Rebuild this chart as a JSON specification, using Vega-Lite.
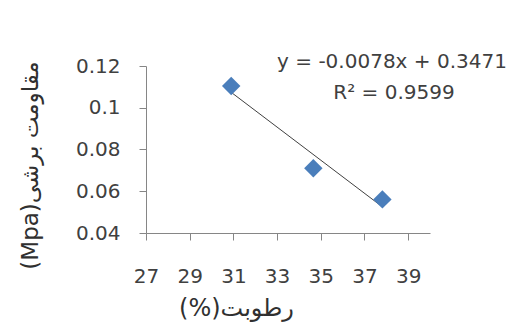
{
  "$schema": "https://vega.github.io/schema/vega-lite/v6.json",
  "width": 284,
  "height": 167,
  "autosize": {"type": "none"},
  "padding": {"left": 146, "top": 66, "right": 80, "bottom": 103},
  "background": "white",
  "config": {
    "view": {"stroke": null},
    "font": "DejaVu Sans",
    "axis": {
      "grid": false,
      "domainColor": "#868686",
      "tickColor": "#868686",
      "tickSize": 7,
      "labelColor": "#404040",
      "labelFont": "DejaVu Sans",
      "labelFontSize": 20,
      "titleColor": "#303030",
      "titleFont": "DejaVu Sans",
      "titleFontWeight": "normal"
    }
  },
  "datasets": {
    "pts": [
      {"moisture": 30.9, "shear": 0.1104},
      {"moisture": 34.66, "shear": 0.071},
      {"moisture": 37.82, "shear": 0.0561}
    ],
    "notes": [
      {"moisture": 38.26, "shear": 0.1219, "label": "y = -0.0078x + 0.3471"},
      {"moisture": 38.35, "shear": 0.1071, "label": "R² = 0.9599"}
    ]
  },
  "layer": [
    {
      "data": {"name": "pts"},
      "transform": [{"regression": "shear", "on": "moisture"}],
      "mark": {"type": "line", "color": "#404040", "strokeWidth": 1},
      "encoding": {
        "x": {"field": "moisture", "type": "quantitative"},
        "y": {"field": "shear", "type": "quantitative"}
      }
    },
    {
      "data": {"name": "pts"},
      "mark": {"type": "point", "shape": "diamond", "filled": true, "size": 340, "color": "#4A7EBB", "opacity": 1},
      "encoding": {
        "x": {
          "field": "moisture", "type": "quantitative",
          "scale": {"domain": [27, 40], "nice": false, "zero": false},
          "axis": {
            "values": [27, 29, 31, 33, 35, 37, 39],
            "labelPadding": 26,
            "labelFlush": false,
            "title": "(%)رطوبت",
            "titleFontSize": 24,
            "titleX": 90,
            "titleY": 75,
            "titleAlign": "center",
            "titleBaseline": "middle",
            "titleAnchor": null
          }
        },
        "y": {
          "field": "shear", "type": "quantitative",
          "scale": {"domain": [0.04, 0.12], "nice": false, "zero": false},
          "axis": {
            "values": [0.04, 0.06, 0.08, 0.1, 0.12],
            "labelExpr": "format(datum.value, '.2~f')",
            "labelPadding": 19,
            "labelFlush": false,
            "title": "(Mpa)مقاومت برشی",
            "titleFontSize": 23,
            "titleX": -116,
            "titleY": 99,
            "titleAngle": 270,
            "titleAlign": "center",
            "titleBaseline": "middle",
            "titleAnchor": null
          }
        }
      }
    },
    {
      "data": {"name": "notes"},
      "mark": {"type": "text", "fontSize": 20, "color": "#404040", "align": "center", "baseline": "middle", "clip": false},
      "encoding": {
        "x": {"field": "moisture", "type": "quantitative"},
        "y": {"field": "shear", "type": "quantitative"},
        "text": {"field": "label"}
      }
    }
  ]
}
